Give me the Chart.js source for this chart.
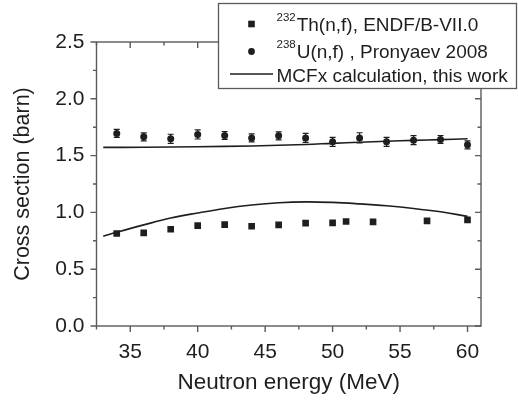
<!DOCTYPE html>
<html>
<head>
<meta charset="utf-8">
<script src="https://cdn.jsdelivr.net/npm/chart.js@4/dist/chart.umd.min.js"></script>
<style>
  html, body { margin: 0; padding: 0; background: #fff; }
  #wrap { width: 518px; height: 401px; position: relative; }
</style>
</head>
<body>
<div id="wrap"><canvas id="c" width="518" height="401"></canvas></div>
<script>
// ---- data ----
const thEnergy = [34, 36, 38, 40, 42, 44, 46, 48, 50, 51, 53, 57, 60];
const thValue  = [0.814, 0.820, 0.852, 0.884, 0.893, 0.878, 0.890, 0.905, 0.908, 0.920, 0.917, 0.925, 0.934];

const uEnergy = [34, 36, 38, 40, 42, 44, 46, 48, 50, 52, 54, 56, 58, 60];
const uValue  = [1.695, 1.665, 1.648, 1.686, 1.677, 1.656, 1.674, 1.656, 1.621, 1.656, 1.621, 1.636, 1.642, 1.595];
const uError  = [0.035, 0.035, 0.04, 0.04, 0.035, 0.035, 0.035, 0.04, 0.04, 0.045, 0.04, 0.04, 0.035, 0.035];

const calcThEnergy = [33, 34, 36, 38, 40, 42, 44, 46, 48, 50, 52, 54, 56, 58, 60];
const calcThValue  = [0.790, 0.825, 0.890, 0.950, 0.995, 1.035, 1.065, 1.085, 1.093, 1.088, 1.075, 1.058, 1.035, 1.005, 0.965];

const calcUEnergy = [33, 36, 40, 44, 48, 50, 52, 54, 56, 58, 60];
const calcUValue  = [1.572, 1.573, 1.578, 1.585, 1.598, 1.608, 1.617, 1.626, 1.634, 1.641, 1.648];

const xTicks = [35, 40, 45, 50, 55, 60];
const xMinorTicks = [32.5, 37.5, 42.5, 47.5, 52.5, 57.5];
const yTicks = [0.0, 0.5, 1.0, 1.5, 2.0, 2.5];
const yMinorTicks = [0.25, 0.75, 1.25, 1.75, 2.25];

const xTitle = 'Neutron energy (MeV)';
const yTitle = 'Cross section (barn)';
const legendItems = [
  { sup: '232', text: 'Th(n,f), ENDF/B-VII.0', kind: 'rect' },
  { sup: '238', text: 'U(n,f) , Pronyaev 2008', kind: 'circle' },
  { sup: '', text: 'MCFx calculation, this work', kind: 'line' }
];

const FONT = '"Liberation Sans", Arial, Helvetica, sans-serif';
const INK = '#1e1e1e';
const FRAME = '#5a5a5a';

const toXY = (xs, ys) => xs.map((x, i) => ({ x: x, y: ys[i] }));

// frame, ticks and error bars
const framePlugin = {
  id: 'frame',
  beforeDatasetsDraw(chart) {
    const ctx = chart.ctx;
    const a = chart.chartArea;
    const xs = chart.scales.x, ys = chart.scales.y;
    ctx.save();
    ctx.strokeStyle = FRAME;
    ctx.lineWidth = 1.4;
    ctx.strokeRect(a.left, a.top, a.right - a.left, a.bottom - a.top);
    ctx.beginPath();
    const tick = (x1, y1, x2, y2) => { ctx.moveTo(x1, y1); ctx.lineTo(x2, y2); };
    xTicks.forEach(v => { const p = xs.getPixelForValue(v);
      tick(p, a.bottom, p, a.bottom + 6); tick(p, a.top, p, a.top + 6); });
    xMinorTicks.forEach(v => { const p = xs.getPixelForValue(v);
      tick(p, a.bottom, p, a.bottom + 3.5); tick(p, a.top, p, a.top + 3.5); });
    yTicks.forEach(v => { const p = ys.getPixelForValue(v);
      tick(a.left, p, a.left - 6, p); tick(a.right, p, a.right - 6, p); });
    yMinorTicks.forEach(v => { const p = ys.getPixelForValue(v);
      tick(a.left, p, a.left - 3.5, p); tick(a.right, p, a.right - 3.5, p); });
    ctx.stroke();

    // error bars of the U data
    ctx.strokeStyle = INK;
    ctx.lineWidth = 1.2;
    ctx.beginPath();
    uEnergy.forEach((e, i) => {
      const px = xs.getPixelForValue(e);
      const lo = ys.getPixelForValue(uValue[i] - uError[i]);
      const hi = ys.getPixelForValue(uValue[i] + uError[i]);
      tick(px, lo, px, hi);
      tick(px - 3, lo, px + 3, lo);
      tick(px - 3, hi, px + 3, hi);
    });
    ctx.stroke();
    ctx.restore();
  },
  afterDraw(chart) {
    const ctx = chart.ctx;
    ctx.save();
    // legend box
    const bx = 218.5, by = 3.5, bw = 298, bh = 85;
    ctx.fillStyle = '#fff';
    ctx.fillRect(bx, by, bw, bh);
    ctx.strokeStyle = FRAME;
    ctx.lineWidth = 1.3;
    ctx.strokeRect(bx, by, bw, bh);

    const rows = [24, 51.5, 74];
    const baselines = [30.5, 57.5, 81.5];
    const mx = 251.5;
    legendItems.forEach((it, i) => {
      ctx.fillStyle = INK;
      ctx.strokeStyle = INK;
      if (it.kind === 'rect') {
        ctx.fillRect(mx - 3.3, rows[i] - 3.3, 6.6, 6.6);
      } else if (it.kind === 'circle') {
        ctx.beginPath(); ctx.arc(mx, rows[i], 3.4, 0, Math.PI * 2); ctx.fill();
      } else {
        ctx.lineWidth = 1.5;
        ctx.beginPath(); ctx.moveTo(230, rows[i]); ctx.lineTo(273, rows[i]); ctx.stroke();
      }
      ctx.textBaseline = 'alphabetic';
      ctx.textAlign = 'left';
      let x = 276.5;
      if (it.sup) {
        ctx.font = '11.5px ' + FONT;
        ctx.fillText(it.sup, x, baselines[i] - 9.5);
        x += ctx.measureText(it.sup).width + 1;
      }
      ctx.font = '19px ' + FONT;
      ctx.fillText(it.text, x, baselines[i]);
    });
    ctx.restore();
  }
};

const ctx = document.getElementById('c').getContext('2d');
new Chart(ctx, {
  type: 'scatter',
  data: {
    datasets: [
      { label: 'MCFx Th', data: toXY(calcThEnergy, calcThValue), showLine: true,
        borderColor: INK, borderWidth: 1.6, pointRadius: 0, tension: 0.4, fill: false },
      { label: 'MCFx U', data: toXY(calcUEnergy, calcUValue), showLine: true,
        borderColor: INK, borderWidth: 1.6, pointRadius: 0, tension: 0.4, fill: false },
      { label: '232Th(n,f), ENDF/B-VII.0', data: toXY(thEnergy, thValue), pointStyle: 'rect',
        pointRadius: 4.7, backgroundColor: INK, borderColor: INK, borderWidth: 0 },
      { label: '238U(n,f) , Pronyaev 2008', data: toXY(uEnergy, uValue), pointStyle: 'circle',
        pointRadius: 3.5, backgroundColor: INK, borderColor: INK, borderWidth: 0 }
    ]
  },
  options: {
    responsive: false,
    animation: false,
    devicePixelRatio: 1,
    layout: { padding: { top: 42, right: 37, left: 0, bottom: 0 } },
    plugins: { legend: { display: false }, tooltip: { enabled: false } },
    scales: {
      x: {
        type: 'linear', min: 32.5, max: 61,
        grid: { display: false, drawTicks: false },
        border: { display: false },
        afterBuildTicks: s => { s.ticks = xTicks.map(v => ({ value: v })); },
        afterFit: s => { s.height = 75; },
        ticks: { font: { family: FONT, size: 21 }, color: INK, padding: 14, maxRotation: 0,
                 callback: v => String(v) },
        title: { display: true, text: xTitle, font: { family: FONT, size: 22.5 }, color: INK,
                 padding: { top: 0, bottom: 5 } }
      },
      y: {
        type: 'linear', min: 0, max: 2.5,
        grid: { display: false, drawTicks: false },
        border: { display: false },
        afterBuildTicks: s => { s.ticks = yTicks.map(v => ({ value: v })); },
        afterFit: s => { s.width = 96.5; },
        ticks: { font: { family: FONT, size: 21 }, color: INK, padding: 12,
                 callback: v => Number(v).toFixed(1) },
        title: { display: true, text: yTitle, font: { family: FONT, size: 21.5 }, color: INK,
                 padding: { top: 10.5, bottom: 0 } }
      }
    }
  },
  plugins: [framePlugin]
});
</script>
</body>
</html>
